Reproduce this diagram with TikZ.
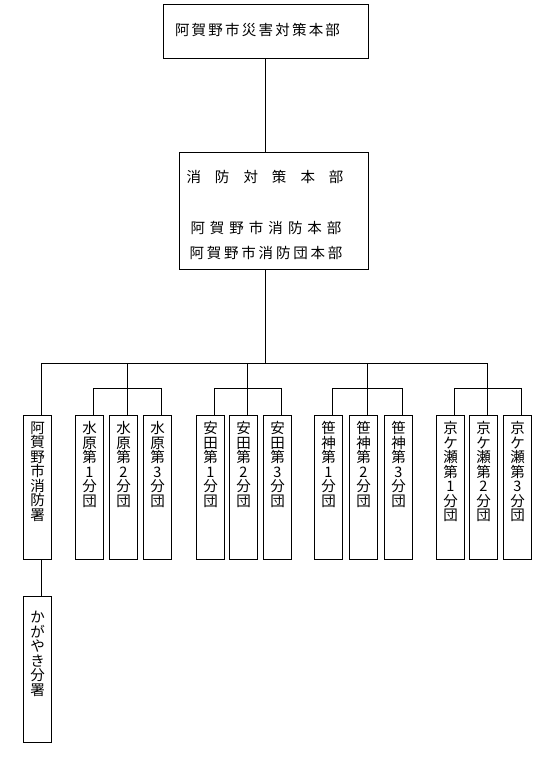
\documentclass[tikz,border=0pt]{standalone}
\usepackage{fontspec}
\setmainfont{Noto Sans CJK JP}
\tikzset{
  box/.style={draw, line width=1pt, inner sep=0pt, rectangle},
  col/.style={box, anchor=north west, minimum width=28pt, minimum height=144pt},
  conn/.style={line width=1pt},
  txt/.style={inner sep=0pt, font=\fontsize{14.5pt}{14.5pt}\selectfont},
}
\newcommand{\vcol}[2][6pt]{\parbox[c][144pt][t]{28pt}{\centering\fontsize{14.5pt}{14.5pt}\selectfont\lineskiplimit=-20pt\vspace*{#1}#2\par\vfill}}
\begin{document}
\begin{tikzpicture}[x=1pt,y=-1pt]
\useasboundingbox (0,0) rectangle (537,784);
% top box
\node[box, minimum width=205pt, minimum height=54pt] (top) at (265.5,32) {};
\node[txt] (toptext) at (257.5,29.5) {\hbox to 165pt{阿\hfill 賀\hfill 野\hfill 市\hfill 災\hfill 害\hfill 対\hfill 策\hfill 本\hfill 部}};
% middle box
\node[box, minimum width=189pt, minimum height=117pt] (mid) at (273.5,210.5) {};
\node[txt] (midA) at (265,176.5) {\hbox to 157pt{消\hfill 防\hfill 対\hfill 策\hfill 本\hfill 部}};
\node[txt] (midB) at (266,227.5) {\hbox to 151pt{阿\hfill 賀\hfill 野\hfill 市\hfill 消\hfill 防\hfill 本\hfill 部}};
\node[txt] (midC) at (266,252.5) {\hbox to 153pt{阿\hfill 賀\hfill 野\hfill 市\hfill 消\hfill 防\hfill 団\hfill 本\hfill 部}};
\coordinate (busY) at (0,363);
\coordinate (subY) at (0,388.5);
% columns
\node[col] (s0) at (23,415) {\vcol{阿\\賀\\野\\市\\消\\防\\署}};
\node[col] (m1) at (75,415) {\vcol{水\\原\\第\\1\\分\\団}};
\node[col] (m2) at (109,415) {\vcol{水\\原\\第\\2\\分\\団}};
\node[col] (m3) at (143,415) {\vcol{水\\原\\第\\3\\分\\団}};
\node[col] (y1) at (196,415) {\vcol{安\\田\\第\\1\\分\\団}};
\node[col] (y2) at (229,415) {\vcol{安\\田\\第\\2\\分\\団}};
\node[col] (y3) at (263,415) {\vcol{安\\田\\第\\3\\分\\団}};
\node[col] (g1) at (314,415) {\vcol{笹\\神\\第\\1\\分\\団}};
\node[col] (g2) at (349,415) {\vcol{笹\\神\\第\\2\\分\\団}};
\node[col] (g3) at (384,415) {\vcol{笹\\神\\第\\3\\分\\団}};
\node[col] (k1) at (436,415) {\vcol{京\\ケ\\瀬\\第\\1\\分\\団}};
\node[col] (k2) at (469,415) {\vcol{京\\ケ\\瀬\\第\\2\\分\\団}};
\node[col] (k3) at (503,415) {\vcol{京\\ケ\\瀬\\第\\3\\分\\団}};
\node[col, minimum height=146pt] (kg) at (23,596) {\vcol[14pt]{か\\が\\や\\き\\分\\署}};
% connectors
\draw[conn] (top.south) -- (top.south |- mid.north);
\draw[conn] (top.south |- mid.south) -- (top.south |- busY);
\draw[conn] ([xshift=3.5pt]s0.north) -- ([xshift=3.5pt]s0.north |- busY) -- ([xshift=3.5pt]k2.north |- busY) -- ([xshift=3.5pt]k2.north);
\foreach \a/\b/\c in {m1/m2/m3, y1/y2/y3, g1/g2/g3, k1/k2/k3} {
  \draw[conn] ([xshift=3.5pt]\a.north) -- ([xshift=3.5pt]\a.north |- subY) -- ([xshift=3.5pt]\c.north |- subY) -- ([xshift=3.5pt]\c.north);
  \draw[conn] ([xshift=3.5pt]\b.north |- busY) -- ([xshift=3.5pt]\b.north);
}
\draw[conn] ([xshift=3.5pt]s0.south) -- ([xshift=3.5pt]kg.north);
\end{tikzpicture}
\end{document}
